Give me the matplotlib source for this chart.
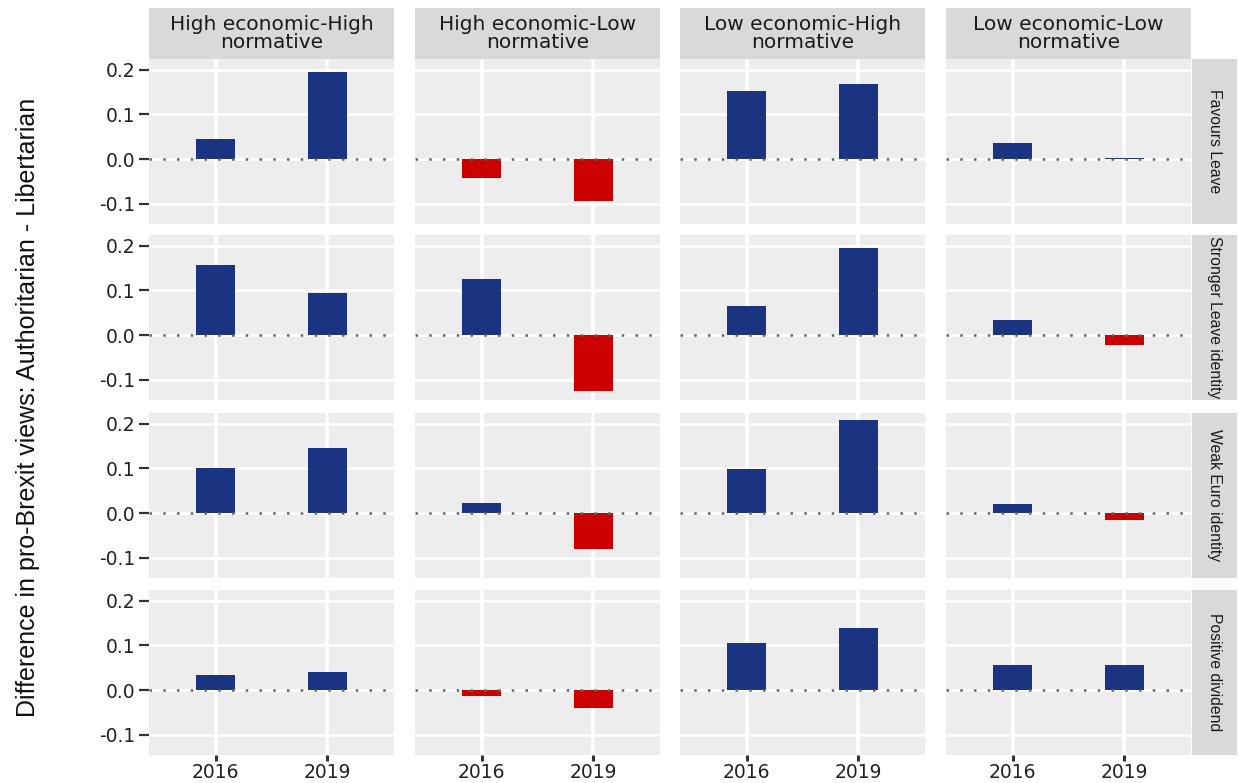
import matplotlib
matplotlib.use("Agg")
import matplotlib.pyplot as plt
import numpy as np

# facet labels
groups = ["High economic-High\nnormative", "High economic-Low\nnormative",
          "Low economic-High\nnormative", "Low economic-Low\nnormative"]
outcomes = ["Favours Leave", "Stronger Leave identity",
            "Weak Euro identity", "Positive dividend"]
years = ["2016", "2019"]
y_ticks = [-0.1, 0.0, 0.1, 0.2]

# one row per outcome: [2016, 2019] for each group
favours_leave = [[0.044, 0.196], [-0.043, -0.093], [0.152, 0.167], [0.037, 0.0015]]
stronger_leave = [[0.157, 0.094], [0.125, -0.125], [0.066, 0.196], [0.035, -0.023]]
weak_euro = [[0.102, 0.146], [0.023, -0.080], [0.098, 0.208], [0.020, -0.016]]
positive_dividend = [[0.033, 0.040], [-0.014, -0.040], [0.105, 0.139], [0.057, 0.057]]
values = [favours_leave, stronger_leave, weak_euro, positive_dividend]

BLUE = "#1A3481"
RED = "#CC0000"
PANEL_BG = "#EDEDED"
STRIP_BG = "#D9D9D9"
WIDE = "DejaVu Sans"
NARROW = ["Liberation Sans", "DejaVu Sans"]

W, H = 1239, 783
fig = plt.figure(figsize=(W / 100, H / 100), dpi=100)


def box(x0, y0, w, h):
    """pixel box (top-left origin) -> figure fraction rect"""
    return [x0 / W, 1 - (y0 + h) / H, w / W, h / H]


col_left = [149, 415, 680, 946]
panel_w = 245
row_top = [59, 235, 413, 590]
panel_h = 165

for r in range(4):
    for c in range(4):
        ax = fig.add_axes(box(col_left[c], row_top[r], panel_w, panel_h))
        ax.set_facecolor(PANEL_BG)
        vals = values[r][c]
        x = np.arange(1, len(years) + 1)
        colors = [BLUE if v >= 0 else RED for v in vals]
        ax.bar(x, vals, width=0.35, color=colors, zorder=3)
        ax.axhline(0, color="#666666", lw=1.8, linestyle=(0, (1, 4.5)), zorder=4)
        ax.set_xlim(0.4, 2.6)
        ax.set_ylim(-0.145, 0.224)
        ax.set_xticks(x)
        ax.set_yticks(y_ticks)
        ax.set_axisbelow(True)
        ax.xaxis.grid(True, color="white", lw=2.6)
        ax.yaxis.grid(True, color="white", lw=1.8)
        for s in ax.spines.values():
            s.set_visible(False)

        if c == 0:
            ax.set_yticklabels([f"{v:.1f}" for v in y_ticks], fontsize=13.5,
                               color="#222222", family=WIDE)
            ax.tick_params(axis="y", length=7, width=1.6, color="#333333", pad=3)
        else:
            ax.tick_params(axis="y", left=False, labelleft=False)

        if r == 3:
            ax.set_xticklabels(years, fontsize=13.5, color="#222222", family=WIDE)
            ax.tick_params(axis="x", length=4, width=2.2, color="#333333", pad=2)
        else:
            ax.tick_params(axis="x", bottom=False, labelbottom=False)

        # top strip
        if r == 0:
            sax = fig.add_axes(box(col_left[c], 8, panel_w, 51))
            sax.set_facecolor(STRIP_BG)
            sax.set_xticks([])
            sax.set_yticks([])
            for s in sax.spines.values():
                s.set_visible(False)
            sax.text(0.5, 0.5, groups[c], ha="center", va="center", fontsize=14.5,
                     color="#1A1A1A", family=WIDE, linespacing=0.92,
                     transform=sax.transAxes)

        # right strip
        if c == 3:
            sax = fig.add_axes(box(1192, row_top[r], 45, panel_h))
            sax.set_facecolor(STRIP_BG)
            sax.set_xticks([])
            sax.set_yticks([])
            for s in sax.spines.values():
                s.set_visible(False)
            sax.text(0.5, 0.5, outcomes[r], ha="center", va="center", rotation=-90,
                     fontsize=11.3, color="#1A1A1A", family=NARROW,
                     transform=sax.transAxes)

fig.text(28 / W, 1 - 407 / H, "Difference in pro-Brexit views: Authoritarian - Libertarian",
         rotation=90, ha="center", va="center", fontsize=18, color="#111111",
         family=NARROW)

fig.savefig("out.png", dpi=100, facecolor="white")
